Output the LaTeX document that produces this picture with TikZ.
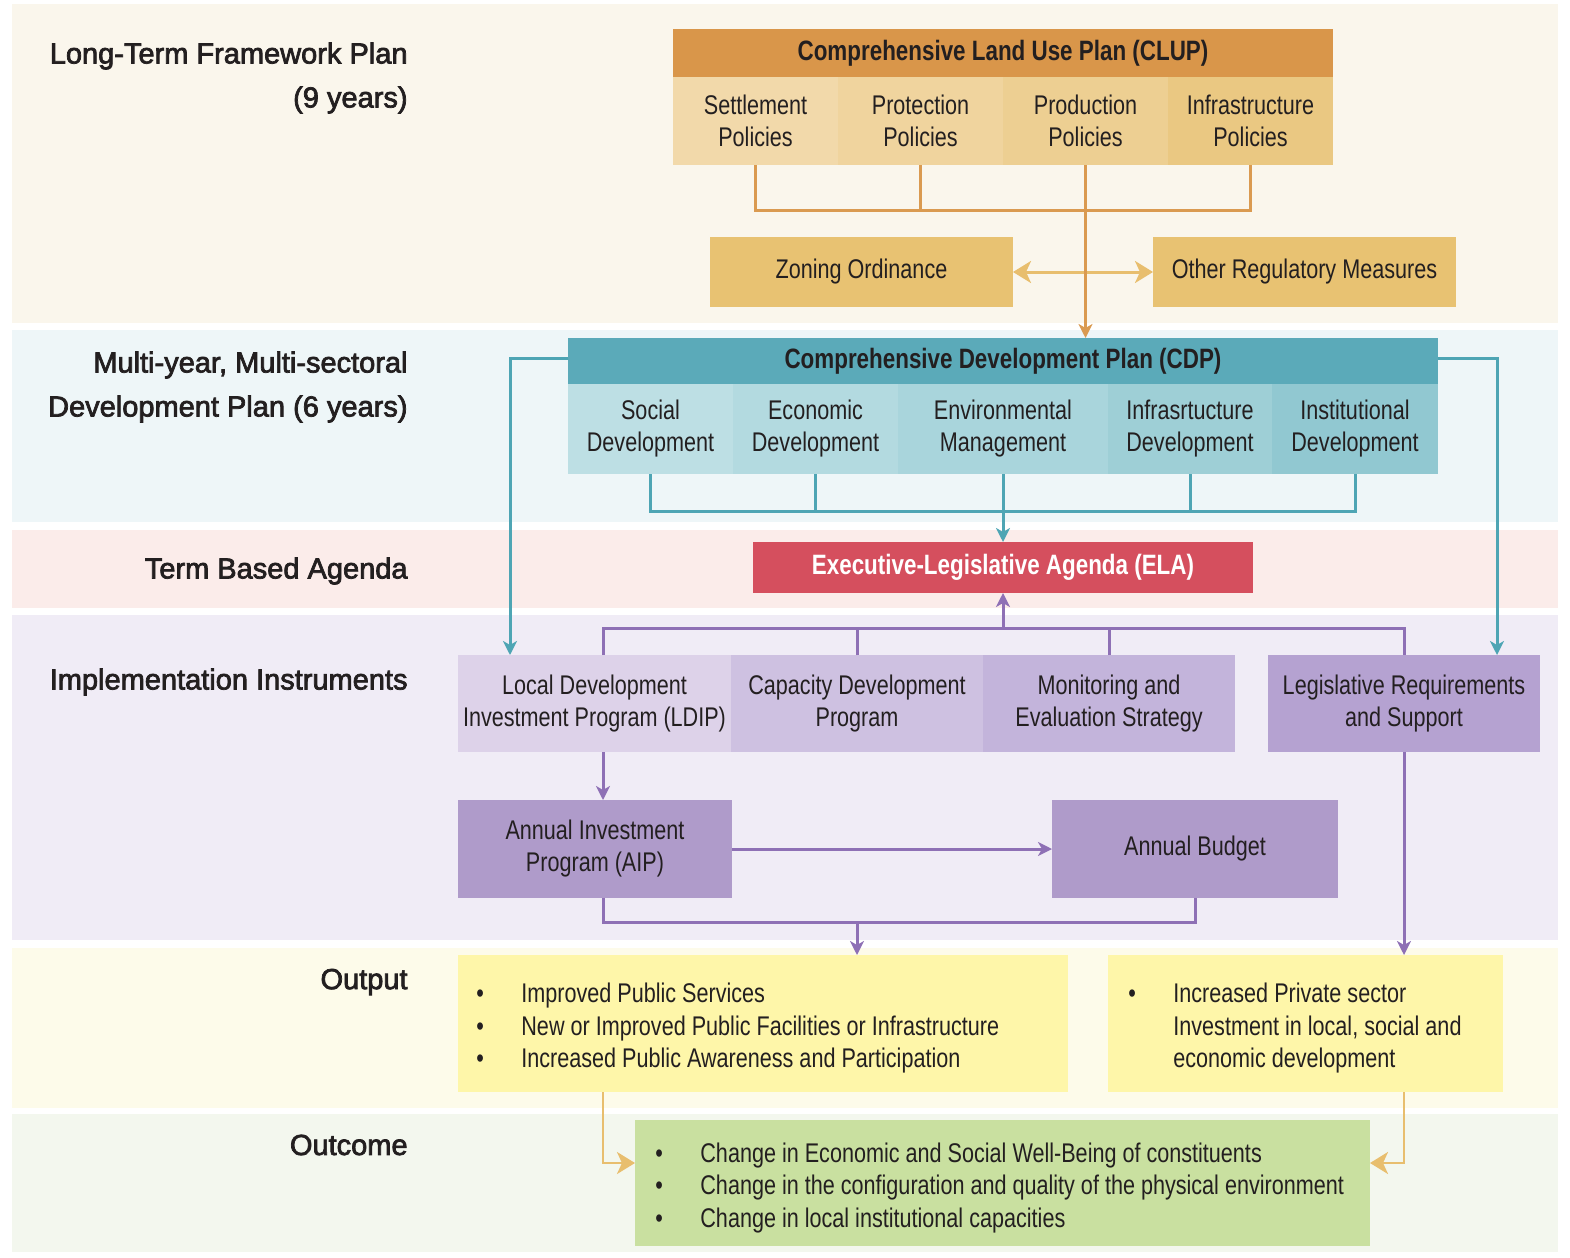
\documentclass[tikz,border=0pt]{standalone}
\usepackage{fontspec}
\setmainfont{Liberation Sans}
\newfontfamily\condfont{Liberation Sans}[FakeStretch=0.8]
\newfontfamily\bandfont{Liberation Sans}[FakeBold=2.5]
\usetikzlibrary{arrows.meta}
\definecolor{ink}{HTML}{231F20}
\definecolor{bandA}{HTML}{FAF6EC}
\definecolor{bandB}{HTML}{EEF6F8}
\definecolor{bandC}{HTML}{FBECEA}
\definecolor{bandD}{HTML}{F0ECF6}
\definecolor{bandE}{HTML}{FDFBEA}
\definecolor{bandF}{HTML}{F3F7EE}
\definecolor{cluphead}{HTML}{D9964A}
\definecolor{clupA}{HTML}{F2D9AA}
\definecolor{clupB}{HTML}{F0D49E}
\definecolor{clupC}{HTML}{EDCF92}
\definecolor{clupD}{HTML}{EAC882}
\definecolor{zonefill}{HTML}{E8C272}
\definecolor{orline}{HTML}{DA9A50}
\definecolor{goldarrow}{HTML}{E8BE6E}
\definecolor{cdphead}{HTML}{5BAAB9}
\definecolor{cdpA}{HTML}{BDDFE4}
\definecolor{cdpB}{HTML}{B3DAE0}
\definecolor{cdpC}{HTML}{A9D5DC}
\definecolor{cdpD}{HTML}{9ECFD6}
\definecolor{cdpE}{HTML}{91C8D1}
\definecolor{tealline}{HTML}{4EA5B4}
\definecolor{elafill}{HTML}{D54F5E}
\definecolor{purA}{HTML}{DDD2E9}
\definecolor{purB}{HTML}{CEC1E1}
\definecolor{purC}{HTML}{C3B4DB}
\definecolor{purD}{HTML}{B5A2D1}
\definecolor{purE}{HTML}{AF9BCA}
\definecolor{purline}{HTML}{8E70B5}
\definecolor{outfill}{HTML}{FEF6A9}
\definecolor{outcfill}{HTML}{C9E0A0}
\newcommand{\bitem}{\makebox[22.5pt][l]{\textbullet}}
\tikzset{
  sz/.style 2 args={minimum width=#1pt,minimum height=#2pt},
  boxnode/.style={fill=#1,inner sep=0pt,outer sep=0pt,align=center,text=ink,
    font=\condfont\fontsize{13.5}{16}\selectfont},
  headnode/.style={boxnode=#1,font=\condfont\bfseries\fontsize{14}{16}\selectfont},
  listtext/.style={anchor=west,inner sep=0pt,align=left,text=ink,yshift=-2.5pt,
    font=\condfont\fontsize{13.5}{16.25}\selectfont},
  bandlabel/.style={anchor=east,inner sep=0pt,align=right,text=ink,
    font=\bandfont\fontsize{14.5}{22}\selectfont},
  arr/.style={-{Stealth[length=7pt,width=7pt,inset=2pt]}},
  wide arr/.style={-{Stealth[length=9pt,width=11pt,inset=2.5pt]}},
  both arr/.style={{Stealth[length=9pt,width=11pt,inset=2.5pt]}-{Stealth[length=9pt,width=11pt,inset=2.5pt]}},
  orangeline/.style={draw=orline,line width=1.5pt},
  tealconn/.style={draw=tealline,line width=1.5pt},
  purconn/.style={draw=purline,line width=1.5pt},
  goldconn/.style={draw=goldarrow,line width=1.3pt}
}
\begin{document}
\begin{tikzpicture}[x=0.5pt,y=-0.5pt]
\useasboundingbox (0,0) rectangle (1570,1258);
% bands
\fill[bandA] (12,4) rectangle (1558,323);
\fill[bandB] (12,330) rectangle (1558,522);
\fill[bandC] (12,530) rectangle (1558,608);
\fill[bandD] (12,615) rectangle (1558,940);
\fill[bandE] (12,948) rectangle (1558,1108);
\fill[bandF] (12,1114) rectangle (1558,1252);

\node[bandlabel] (ltfp) at (408,78) {Long-Term Framework Plan\\(9 years)};
\node[bandlabel] (mydp) at (408,387) {Multi-year, Multi-sectoral\\Development Plan (6 years)};
\node[bandlabel] (tba) at (408,571) {Term Based Agenda};
\node[bandlabel] (impl) at (408,682) {Implementation Instruments};
\node[bandlabel] (outl) at (408,982) {Output};
\node[bandlabel] (outcl) at (408,1145) {Outcome};

\coordinate (pbar) at (0,628);
\coordinate (abar) at (0,922);
\coordinate (obar) at (0,1163);
\coordinate (lx) at (603,0);

% CLUP
\node[headnode=cluphead,sz={330}{24}] (clup) at (1003,53) {Comprehensive Land Use Plan (CLUP)};
\node[boxnode=clupA,sz={82.5}{44}] (set) at (755.5,121) {Settlement\\Policies};
\node[boxnode=clupB,sz={82.5}{44}] (prot) at (920.5,121) {Protection\\Policies};
\node[boxnode=clupC,sz={82.5}{44}] (prod) at (1085.5,121) {Production\\Policies};
\node[boxnode=clupD,sz={82.5}{44}] (infp) at (1250.5,121) {Infrastructure\\Policies};
\node[boxnode=zonefill,sz={151.5}{35}] (zon) at (861.5,272) {Zoning Ordinance};
\node[boxnode=zonefill,sz={151.5}{35}] (orm) at (1304.5,272) {Other Regulatory Measures};

% CDP
\node[headnode=cdphead,sz={435}{23}] (cdp) at (1003,361) {Comprehensive Development Plan (CDP)};
\node[boxnode=cdpA,sz={82.5}{45}] (soc) at (650.5,429) {Social\\Development};
\node[boxnode=cdpB,sz={82.5}{45}] (eco) at (815.5,429) {Economic\\Development};
\node[boxnode=cdpC,sz={105}{45}] (env) at (1003,429) {Environmental\\Management};
\node[boxnode=cdpD,sz={82}{45}] (infd) at (1190,429) {Infrasrtucture\\Development};
\node[boxnode=cdpE,sz={83}{45}] (ins) at (1355,429) {Institutional\\Development};

% ELA
\node[headnode=elafill,sz={250}{25.5},text=white] (ela) at (1003,567.5) {Executive-Legislative Agenda (ELA)};

% implementation
\node[boxnode=purA,sz={136.5}{48.5}] (ldip) at (594.5,703.5) {Local Development\\Investment Program (LDIP)};
\node[boxnode=purB,sz={126}{48.5}] (cap) at (857,703.5) {Capacity Development\\Program};
\node[boxnode=purC,sz={126}{48.5}] (mon) at (1109,703.5) {Monitoring and\\Evaluation Strategy};
\node[boxnode=purD,sz={136}{48.5}] (leg) at (1404,703.5) {Legislative Requirements\\and Support};
\node[boxnode=purE,sz={137}{49}] (aip) at (595,849) {Annual Investment\\Program (AIP)};
\node[boxnode=purE,sz={143}{49}] (bud) at (1195,849) {Annual Budget};

% output and outcome
\node[boxnode=outfill,sz={305}{68.5}] (out1) at (763,1023.5) {};
\node[boxnode=outfill,sz={197.5}{68.5}] (out2) at (1305.5,1023.5) {};
\node[boxnode=outcfill,sz={367.5}{63}] (outc) at (1002.5,1183) {};
\node[listtext] (out1t) at ([xshift=9pt]out1.west) {\bitem Improved Public Services\\\bitem New or Improved Public Facilities or Infrastructure\\\bitem Increased Public Awareness and Participation};
\node[listtext] (out2t) at ([xshift=10pt]out2.west) {\bitem Increased Private sector\\\hspace*{22.5pt}Investment in local, social and\\\hspace*{22.5pt}economic development};
\node[listtext] (outct) at ([xshift=10pt]outc.west) {\bitem Change in Economic and Social Well-Being of constituents\\\bitem Change in the configuration and quality of the physical environment\\\bitem Change in local institutional capacities};

% connectors
\draw[orangeline] (set.south) -- ++(0,45) -| (infp.south);
\draw[orangeline] (prot.south) -- ++(0,45);
\draw[goldconn,line width=1.5pt,both arr] (zon.east) -- (orm.west);
\draw[orangeline,arr] (prod.south) -- (prod.south |- cdp.north);

\draw[tealconn] (soc.south) -- ++(0,37) -| (ins.south);
\draw[tealconn] (eco.south) -- ++(0,37);
\draw[tealconn] (infd.south) -- ++(0,37);
\draw[tealconn,arr] (env.south) -- (ela.north);
\draw[tealconn,arr] ([yshift=1.5pt]cdp.west) -| ([xshift=26pt]ldip.north west);
\draw[tealconn,arr] ([yshift=1.5pt]cdp.east) -| ([xshift=-21.5pt]leg.north east);

\draw[purconn] (lx |- ldip.north) -- (lx |- pbar) -| (leg.north);
\draw[purconn] (cap.north) -- (cap.north |- pbar);
\draw[purconn] (mon.north) -- (mon.north |- pbar);
\draw[purconn,arr] (ela.south |- pbar) -- (ela.south);
\draw[purconn,arr] (lx |- ldip.south) -- (lx |- aip.north);
\draw[purconn,arr] (aip.east) -- (bud.west);
\draw[purconn] (lx |- aip.south) -- (lx |- abar) -| (bud.south);
\draw[purconn,arr] (cap.south |- abar) -- (cap.south |- out1.north);
\draw[purconn,arr] (leg.south) -- (leg.south |- out2.north);

\draw[goldconn,wide arr] (lx |- out1.south) |- (outc.west |- obar);
\draw[goldconn,wide arr] (leg.south |- out2.south) |- (outc.east |- obar);
\end{tikzpicture}
\end{document}
